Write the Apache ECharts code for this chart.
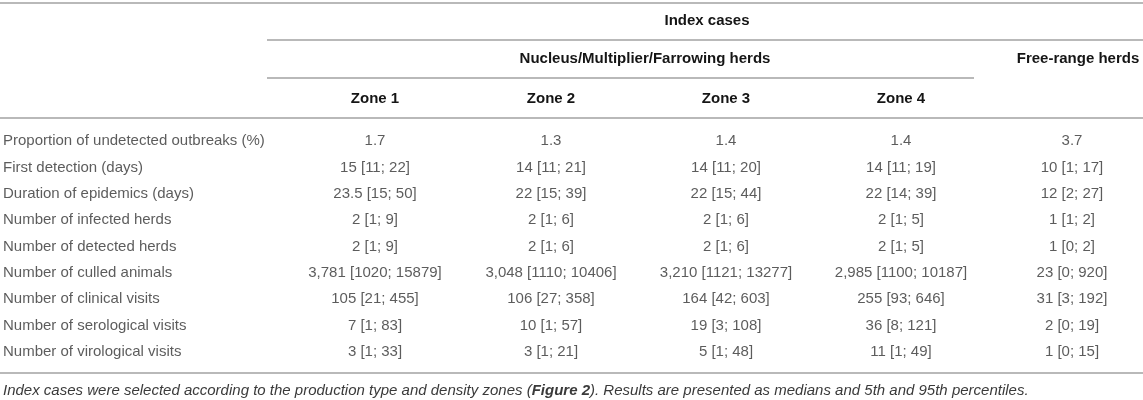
<!DOCTYPE html>
<html>
<head>
<meta charset="utf-8">
<script src="https://cdn.jsdelivr.net/npm/echarts@6/dist/echarts.min.js"></script>
<style>
  html, body { margin: 0; padding: 0; background: #fff; }
  #tabla { width: 1143px; height: 400px; }
</style>
</head>
<body>
<div id="tabla"></div>
<script>
// filas de la tabla
var rowLabels = [
    'Proportion of undetected outbreaks (%)',
    'First detection (days)',
    'Duration of epidemics (days)',
    'Number of infected herds',
    'Number of detected herds',
    'Number of culled animals',
    'Number of clinical visits',
    'Number of serological visits',
    'Number of virological visits'
];

// columnas (mediana [p5; p95])
var zone1 = ['1.7', '15 [11; 22]', '23.5 [15; 50]', '2 [1; 9]', '2 [1; 9]', '3,781 [1020; 15879]', '105 [21; 455]', '7 [1; 83]', '3 [1; 33]'];
var zone2 = ['1.3', '14 [11; 21]', '22 [15; 39]', '2 [1; 6]', '2 [1; 6]', '3,048 [1110; 10406]', '106 [27; 358]', '10 [1; 57]', '3 [1; 21]'];
var zone3 = ['1.4', '14 [11; 20]', '22 [15; 44]', '2 [1; 6]', '2 [1; 6]', '3,210 [1121; 13277]', '164 [42; 603]', '19 [3; 108]', '5 [1; 48]'];
var zone4 = ['1.4', '14 [11; 19]', '22 [14; 39]', '2 [1; 5]', '2 [1; 5]', '2,985 [1100; 10187]', '255 [93; 646]', '36 [8; 121]', '11 [1; 49]'];
var freeRange = ['3.7', '10 [1; 17]', '12 [2; 27]', '1 [1; 2]', '1 [0; 2]', '23 [0; 920]', '31 [3; 192]', '2 [0; 19]', '1 [0; 15]'];

// cabeceras
var zoneNames = ['Zone 1', 'Zone 2', 'Zone 3', 'Zone 4', ''];
var topHeader = 'Index cases';
var groupHeaders = ['Nucleus/Multiplier/Farrowing herds', 'Free-range herds'];

var fuente = "'Liberation Sans', Arial, Helvetica, sans-serif";
var colorLinea = '#b9b9b9';

var chartDom = document.getElementById('tabla');
var tabla = echarts.init(chartDom);

// columnas: centro en x de cada una
var columnas = [
    {valores: rowLabels, nombre: '', centro: 3, izquierda: true},
    {valores: zone1, nombre: zoneNames[0], centro: 375},
    {valores: zone2, nombre: zoneNames[1], centro: 551},
    {valores: zone3, nombre: zoneNames[2], centro: 726},
    {valores: zone4, nombre: zoneNames[3], centro: 901},
    {valores: freeRange, nombre: zoneNames[4], centro: 1076}
];

var grids = [], xAxes = [], yAxes = [], series = [];

columnas.forEach(function(col, i){
    var ancho = col.izquierda ? 6 : 150;
    grids.push({left: col.centro - ancho / 2, width: ancho, top: 128, height: 237});
    xAxes.push({
        gridIndex: i,
        type: 'category',
        position: 'top',
        data: [col.nombre],
        axisLine: {show: false},
        axisTick: {show: false},
        splitLine: {show: false},
        axisLabel: {
            show: !col.izquierda,
            margin: 22,
            color: '#151515',
            fontWeight: 'bold',
            fontSize: 15,
            fontFamily: fuente
        }
    });
    yAxes.push({
        gridIndex: i,
        type: 'category',
        inverse: true,
        data: rowLabels,
        show: false
    });
    series.push({
        type: 'scatter',
        xAxisIndex: i,
        yAxisIndex: i,
        symbolSize: 0,
        silent: true,
        data: col.valores.map(function(v, j){
            return [col.nombre, rowLabels[j], v];
        }),
        label: {
            show: true,
            position: col.izquierda ? 'right' : 'inside',
            distance: 0,
            color: '#333333',
            fontSize: 15,
            fontFamily: fuente,
            formatter: function(p){ return p.value[2]; }
        }
    });
});

function linea(x1, x2, y){
    return {
        type: 'line',
        shape: {x1: x1, y1: y, x2: x2, y2: y},
        style: {stroke: colorLinea, lineWidth: 2}
    };
}

function cabecera(texto, x, y){
    return {
        type: 'text',
        x: x, y: y,
        style: {
            text: texto,
            align: 'center',
            verticalAlign: 'middle',
            fill: '#151515',
            font: 'bold 15px ' + fuente
        }
    };
}

var option = {
    animation: false,
    grid: grids,
    xAxis: xAxes,
    yAxis: yAxes,
    series: series,
    graphic: [
        linea(0, 1143, 3),
        cabecera(topHeader, 707, 21),
        linea(267, 1143, 40),
        cabecera(groupHeaders[0], 645, 59),
        cabecera(groupHeaders[1], 1078, 59),
        linea(267, 974, 78),
        linea(0, 1143, 118),
        linea(0, 1143, 373),
        {
            type: 'text',
            x: 3, y: 391,
            style: {
                text: '{n|Index cases were selected according to the production type and density zones (}{b|Figure 2}{n|). Results are presented as medians and 5th and 95th percentiles.}',
                verticalAlign: 'middle',
                rich: {
                    n: {fill: '#3a3a3a', font: 'italic 15px ' + fuente},
                    b: {fill: '#3a3a3a', font: 'italic bold 15px ' + fuente}
                }
            }
        }
    ]
};

option && tabla.setOption(option, true);
</script>
</body>
</html>
